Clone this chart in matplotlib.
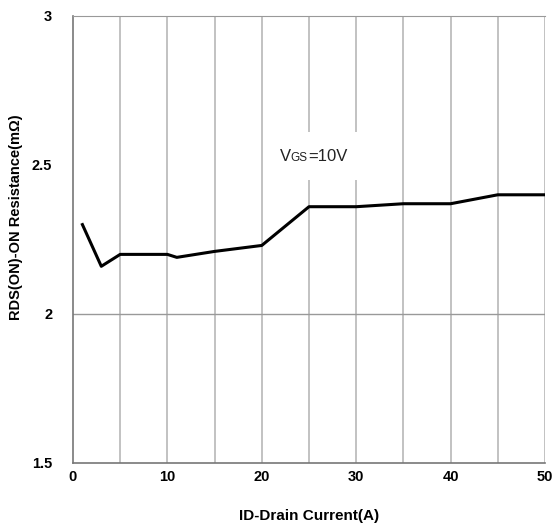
import matplotlib.pyplot as plt
from matplotlib.patches import Rectangle

# drain current (A) vs on-resistance (mOhm)
drain_current = [1, 3, 5, 10, 11, 15, 17.5, 20, 25, 30, 35, 40, 45, 50]
rds_on = [2.30, 2.16, 2.20, 2.20, 2.19, 2.21, 2.22, 2.23, 2.36, 2.36, 2.37, 2.37, 2.40, 2.40]

x_ticks = [0, 10, 20, 30, 40, 50]
y_ticks = [1.5, 2, 2.5, 3]

plt.rcParams["font.family"] = ["Liberation Sans", "DejaVu Sans"]

fig = plt.figure(figsize=(5.52, 5.26), dpi=100)
ax = fig.add_axes([0.1322, 0.1198, 0.8551, 0.8498])

# vertical grid every 5 A, single horizontal line at 2
for xv in range(5, 51, 5):
    ax.axvline(xv, color="#bdbdbd", linewidth=1.3, zorder=1)
ax.axhline(2.0, color="#999999", linewidth=1.0, zorder=1)

ax.plot(drain_current, rds_on, color="black", linewidth=2.2, zorder=3)

ax.set_xlim(0, 50)
ax.set_ylim(1.5, 3)
ax.set_xticks(x_ticks)
ax.set_yticks(y_ticks)
ax.set_yticklabels(["1.5", "2", "2.5", "3"])
ax.tick_params(length=0, labelsize=10.5)
ax.tick_params(axis="y", pad=15)
ax.tick_params(axis="x", pad=5)
for lbl in ax.get_xticklabels() + ax.get_yticklabels():
    lbl.set_fontweight("bold")

for side in ["left", "bottom"]:
    ax.spines[side].set_color("#777777")
    ax.spines[side].set_linewidth(1.2)
ax.spines["top"].set_color("#999999")
ax.spines["right"].set_visible(False)

# white label box over the grid
ax.add_patch(Rectangle((21.5, 2.45), 10.5, 0.16, facecolor="white", edgecolor="none", zorder=2))
t1 = ax.text(21.9, 2.503, "V", fontsize=12, ha="left", va="bottom", color="#222222", zorder=4)
t2 = ax.annotate("GS", xy=(1, 0), xycoords=t1, fontsize=8.5, ha="left", va="bottom",
                 color="#222222", zorder=4)
ax.annotate("=10V", xy=(1, 0), xycoords=t2, fontsize=12, ha="left", va="bottom",
            color="#222222", zorder=4)

ax.set_xlabel("ID-Drain Current(A)", fontsize=11, fontweight="bold")
ax.xaxis.set_label_coords(0.50, -0.102)
ax.set_ylabel("RDS(ON)-ON Resistance(mΩ)", fontsize=10.5, fontweight="bold")
ax.yaxis.set_label_coords(-0.106, 0.55)

fig.savefig("out.png", dpi=100)
